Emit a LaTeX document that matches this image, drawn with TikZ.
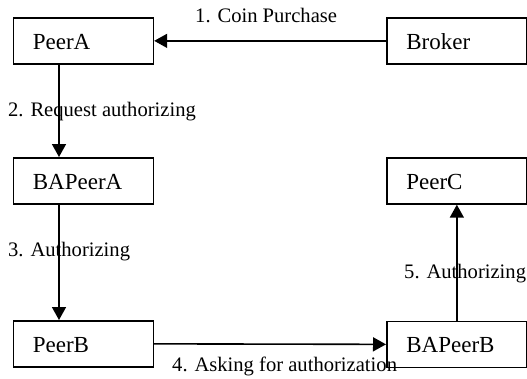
\documentclass[tikz,border=0pt]{standalone}
\usepackage{fontspec}
\setmainfont{Liberation Serif}
\usetikzlibrary{arrows.meta}

\tikzset{
  peerbox/.style={draw, line width=1.7pt, rectangle, anchor=north west,
    inner xsep=19.5pt, inner ysep=0pt, text width=101pt, align=left,
    minimum height=46pt, text height=17pt, text depth=0pt,
    font=\fontsize{23}{27}\selectfont},
  flow/.style={line width=1.6pt, -{Triangle[length=13pt,width=14pt]}},
  steplabel/.style={anchor=base west, inner sep=0pt,
    font=\fontsize{20.6}{24}\selectfont}
}

\begin{document}
\begin{tikzpicture}[x=1pt, y=-1pt]
  \useasboundingbox (0,0) rectangle (527,378);

  % peers and broker
  \node[peerbox] (PeerA)   at (12.5,17)  {PeerA};
  \node[peerbox] (Broker)  at (386,17)   {Broker};
  \node[peerbox] (BAPeerA) at (12.5,157) {BAPeerA};
  \node[peerbox] (PeerC)   at (386,157)  {PeerC};
  \node[peerbox] (PeerB)   at (12.5,320) {PeerB};
  \node[peerbox] (BAPeerB) at (386,320.5) {BAPeerB};

  % column of the left-hand vertical arrows
  \coordinate (colL) at (59,0);

  % message flow
  \draw[flow] (Broker.west) -- (PeerA.east);
  \draw[flow] (PeerA.south -| colL) -- (BAPeerA.north -| colL);
  \draw[flow] (BAPeerA.south -| colL) -- (PeerB.north -| colL);
  \draw[flow] (PeerB.east) -- (BAPeerB.west);
  \draw[flow] (BAPeerB.north) -- (PeerC.south);

  % step labels
  \node[steplabel] (l1) at (195,22)    {1. Coin Purchase};
  \node[steplabel] (l2) at (8,116.7)   {2. Request authorizing};
  \node[steplabel] (l3) at (8,256.7)   {3. Authorizing};
  \node[steplabel] (l4) at (172,371.7) {4. Asking for authorization};
  \node[steplabel] (l5) at (404,278.5) {5. Authorizing};
\end{tikzpicture}
\end{document}
